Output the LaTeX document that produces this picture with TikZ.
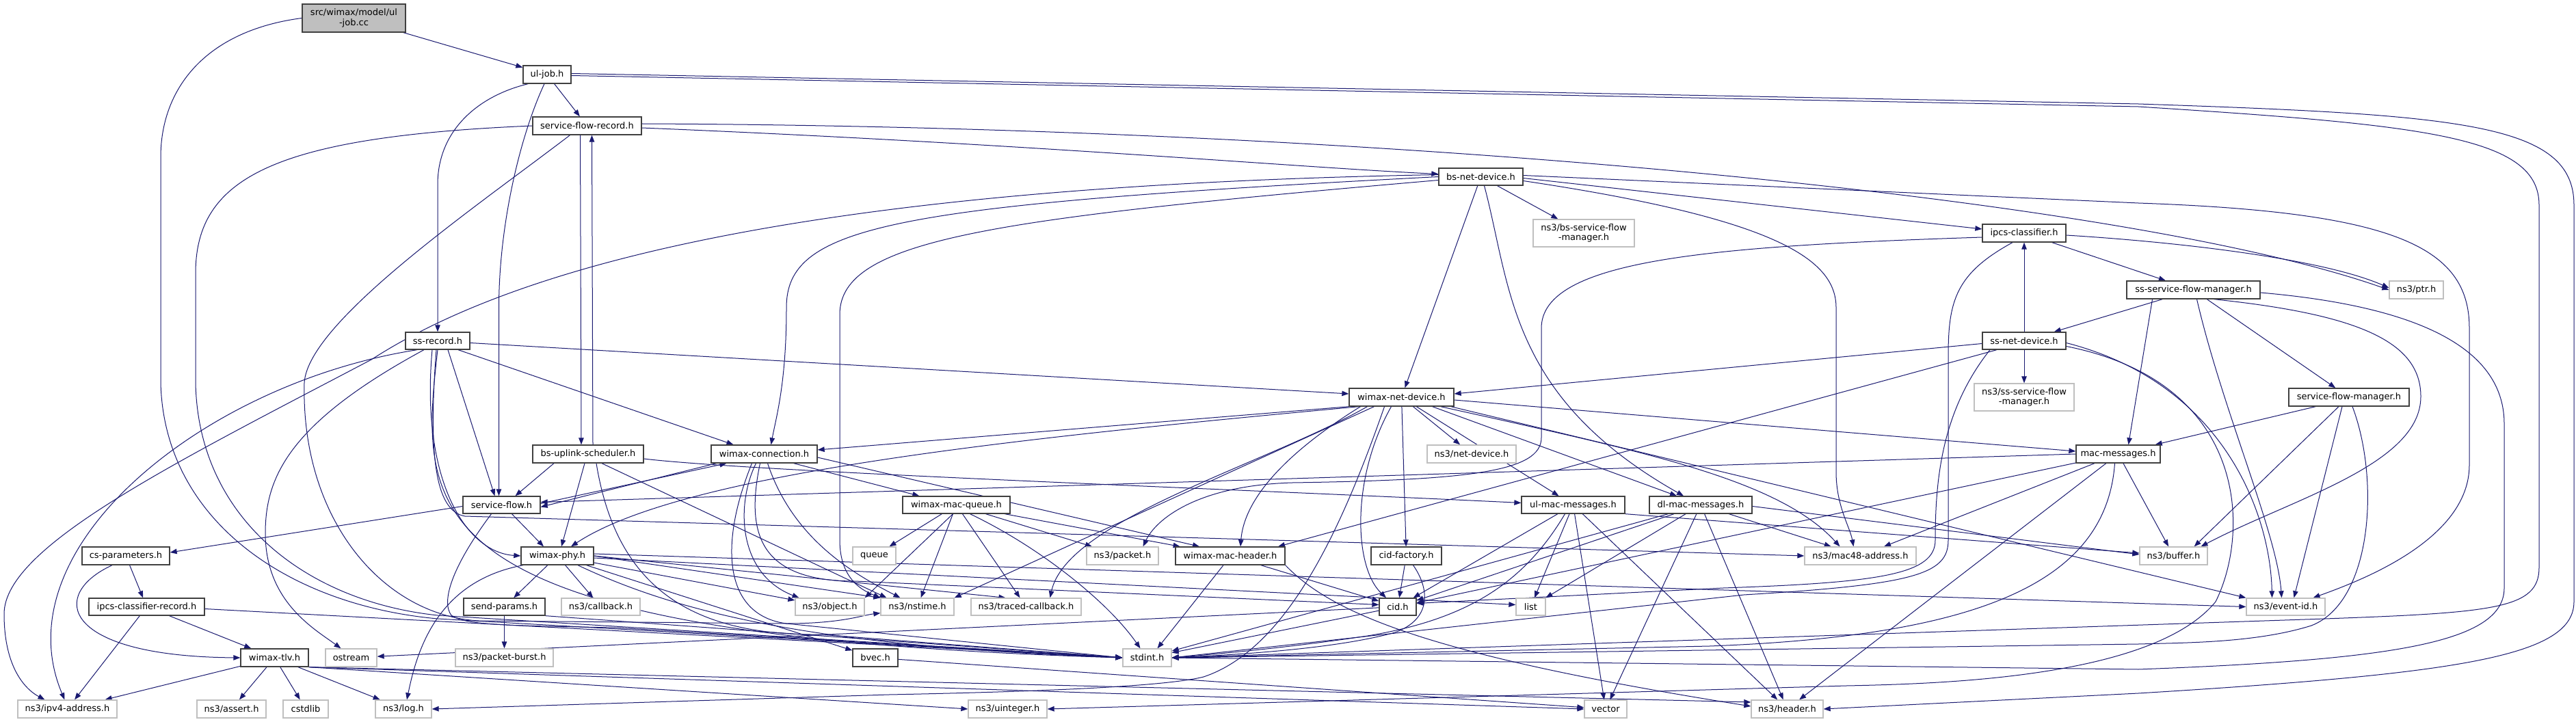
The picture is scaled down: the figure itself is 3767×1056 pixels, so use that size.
\documentclass[tikz,border=0pt]{standalone}
\usepackage{fontspec}
\setmainfont{DejaVu Sans}
\usetikzlibrary{arrows.meta}
\pgfdeclarelayer{back}
\pgfdeclarelayer{bg}
\pgfsetlayers{back,bg,main}
\definecolor{edgec}{HTML}{191970}
\definecolor{docb}{HTML}{404040}
\definecolor{extb}{HTML}{BFBFBF}
\tikzset{
 box/.style={draw=docb,line width=1.3pt,fill=white,inner sep=0pt,align=center,font=\fontsize{13}{14.5}\selectfont},
 ext/.style={box,draw=extb},
 root/.style={box,fill=extb},
 sz/.style 2 args={minimum width=#1pt,minimum height=#2pt},
 edg/.style={draw=edgec,line width=1pt,-{Triangle[length=10pt,width=7.5pt]}}
}
\begin{document}
\begin{tikzpicture}[x=1pt,y=-1pt]
\useasboundingbox (0,0) rectangle (3767,1056);
\begin{pgfonlayer}{back}
\fill[white] (0,0) rectangle (3767,1056);
\end{pgfonlayer}
% nodes
\node[root,sz={151}{41}] (src) at (517.5,26.5) {src/wimax/model/ul\\-job.cc};
\node[box,sz={70}{26}] (uljob) at (800,109) {ul-job.h};
\node[box,sz={159}{26}] (sfr) at (858.5,184) {service-flow-record.h};
\node[box,sz={123}{25}] (bsnd) at (2165.5,258.5) {bs-net-device.h};
\node[ext,sz={148}{40}] (bssfm) at (2316,341) {ns3/bs-service-flow\\-manager.h};
\node[box,sz={122}{26}] (ipcscl) at (2960,341) {ipcs-classifier.h};
\node[ext,sz={79}{26}] (ptr) at (3533.5,424) {ns3/ptr.h};
\node[box,sz={195}{26}] (sssfm) at (3207.5,424) {ss-service-flow-manager.h};
\node[box,sz={94}{25}] (ssrec) at (640,498.5) {ss-record.h};
\node[box,sz={122}{25}] (ssnd) at (2960,498.5) {ss-net-device.h};
\node[box,sz={153}{26}] (wnd) at (2049.5,581) {wimax-net-device.h};
\node[ext,sz={146}{40}] (nssfm) at (2960,581) {ns3/ss-service-flow\\-manager.h};
\node[box,sz={176}{26}] (sfm) at (3435,581) {service-flow-manager.h};
\node[box,sz={162}{26}] (bsus) at (860,664) {bs-uplink-scheduler.h};
\node[box,sz={155}{26}] (wconn) at (1117.5,664) {wimax-connection.h};
\node[ext,sz={130}{26}] (netdev) at (2152,664) {ns3/net-device.h};
\node[box,sz={123}{26}] (macmsg) at (3097.5,664) {mac-messages.h};
\node[box,sz={113}{25}] (sflow) at (733.5,738.5) {service-flow.h};
\node[box,sz={157}{25}] (wmq) at (1398.5,738.5) {wimax-mac-queue.h};
\node[box,sz={151}{25}] (ulmm) at (2300.5,738.5) {ul-mac-messages.h};
\node[box,sz={150}{25}] (dlmm) at (2487,738.5) {dl-mac-messages.h};
\node[box,sz={128}{26}] (csp) at (184,813) {cs-parameters.h};
\node[box,sz={106}{26}] (wphy) at (815,813) {wimax-phy.h};
\node[ext,sz={63}{26}] (queue) at (1278.5,813) {queue};
\node[ext,sz={105}{26}] (packet) at (1641.5,813) {ns3/packet.h};
\node[box,sz={160}{26}] (wmh) at (1799,813) {wimax-mac-header.h};
\node[box,sz={103}{26}] (cidf) at (2056.5,813) {cid-factory.h};
\node[ext,sz={163}{26}] (mac48) at (2720.5,813) {ns3/mac48-address.h};
\node[ext,sz={99}{26}] (buffer) at (3178.5,813) {ns3/buffer.h};
\node[box,sz={169}{25}] (icr) at (214.5,887.5) {ipcs-classifier-record.h};
\node[box,sz={119}{25}] (sendp) at (737.5,887.5) {send-params.h};
\node[ext,sz={115}{25}] (callback) at (878.5,887.5) {ns3/callback.h};
\node[ext,sz={101}{25}] (object) at (1213.5,887.5) {ns3/object.h};
\node[ext,sz={107}{25}] (nstime) at (1341.5,887.5) {ns3/nstime.h};
\node[ext,sz={161}{25}] (traced) at (1500.5,887.5) {ns3/traced-callback.h};
\node[box,sz={54}{25}] (cid) at (2044,887.5) {cid.h};
\node[ext,sz={43}{25}] (list) at (2238.5,887.5) {list};
\node[ext,sz={115}{25}] (eventid) at (3342.5,887.5) {ns3/event-id.h};
\node[box,sz={99}{26}] (wtlv) at (401.5,962) {wimax-tlv.h};
\node[ext,sz={75}{26}] (ostream) at (513.5,962) {ostream};
\node[ext,sz={143}{26}] (pburst) at (737.5,962) {ns3/packet-burst.h};
\node[box,sz={66}{26}] (bvec) at (1280,962) {bvec.h};
\node[ext,sz={71}{26}] (stdint) at (1677.5,962) {stdint.h};
\node[ext,sz={145}{26}] (ipv4) at (98.5,1037) {ns3/ipv4-address.h};
\node[ext,sz={101}{26}] (assert) at (338.5,1037) {ns3/assert.h};
\node[ext,sz={66}{26}] (cstdlib) at (447,1037) {cstdlib};
\node[ext,sz={82}{26}] (log) at (590,1037) {ns3/log.h};
\node[ext,sz={115}{26}] (uinteger) at (1473.5,1037) {ns3/uinteger.h};
\node[ext,sz={62}{26}] (vector) at (2348,1037) {vector};
\node[ext,sz={105}{26}] (header) at (2613.5,1037) {ns3/header.h};
\begin{pgfonlayer}{bg}
% src
\draw[edg] (src) -- (uljob);
\draw[edg] (src.west) .. controls (300,45) and (235,130) .. (235,230) -- (235,560) .. controls (240,760) and (420,885) .. (640,905) -- (stdint.west);
% ul-job.h
\draw[edg] (uljob) -- (sfr);
\draw[edg] ([xshift=8pt]uljob.south west) .. controls (700,140) and (640,190) .. (640,270) -- (ssrec.north);
\draw[edg] ([xshift=-4pt]uljob.south) .. controls (760,200) and (729.5,330) .. (729.5,450) -- ([xshift=-4pt]sflow.north);
\draw[edg] ([yshift=1.5pt]uljob.east) -- (3127,152) .. controls (3600,168) and (3764,180) .. (3764,300) -- (3764,880) .. controls (3764,960) and (3600,985) .. (3127,1014) -- (header.east);
\draw[edg] ([yshift=-1.5pt]uljob.east) -- (3127,156) .. controls (3550,183) and (3713,200) .. (3713,300) -- (3713,830) .. controls (3713,890) and (3650,896) .. (3400,905) -- (stdint.east);
% service-flow-record.h
\draw[edg] ([xshift=-10pt]sfr.south) -- ([xshift=-10pt]bsus.north);
\draw[edg] ([xshift=7pt]bsus.north) -- ([xshift=7pt]sfr.south);
\draw[edg] ([yshift=-3pt]sfr.east) .. controls (1500,210) and (1900,245) .. ([yshift=4pt]bsnd.west);
\draw[edg] ([yshift=3pt]sfr.east) .. controls (2000,185) and (3100,285) .. (ptr.west);
\draw[edg] (sfr.west) .. controls (400,200) and (286,260) .. (286,400) -- (286,560) .. controls (290,760) and (450,880) .. (640,900) -- (stdint.west);
\draw[edg] ([xshift=-25pt]sfr.south) .. controls (700,300) and (450,470) .. (445,560) .. controls (440,760) and (560,900) .. (700,908) -- (1150,912) .. controls (1230,912) and (1260,900) .. ([yshift=4pt]nstime.south west);
% bs-net-device.h
\draw[edg] (bsnd) -- (wnd);
\draw[edg] (bsnd) -- (bssfm);
\draw[edg] ([yshift=-2pt]bsnd.east) -- ([yshift=6pt]ipcscl.west);
\draw[edg] ([yshift=2pt]bsnd.east) -- (3127,297) .. controls (3500,310) and (3611,360) .. (3611,480) -- (3611,680) .. controls (3611,790) and (3450,850) .. ([xshift=40pt]eventid.north);
\draw[edg] ([yshift=-6pt]bsnd.east) .. controls (2600,320) and (2685,380) .. (2685,450) -- (2685,690) .. controls (2685,740) and (2705,770) .. ([xshift=-10pt]mac48.north);
\draw[edg] ([xshift=5pt]bsnd.south) .. controls (2210,420) and (2205,580) .. ([xshift=-25pt]dlmm.north);
\draw[edg] (bsnd.west) .. controls (1300,300) and (1150,330) .. (1150,450) .. controls (1150,560) and (1135,610) .. ([xshift=10pt]wconn.north);
\draw[edg] ([yshift=-5pt]bsnd.west) .. controls (1450,320) and (1228,350) .. (1228,460) -- (1228,790) .. controls (1228,850) and (1265,865) .. (nstime.north west);
\draw[edg] ([yshift=3pt]bsnd.west) .. controls (1300,270) and (800,360) .. (543,526) .. controls (250,680) and (6,800) .. (6,898) .. controls (6,980) and (40,1010) .. ([xshift=-33pt]ipv4.north);
% ss-record.h
\draw[edg] ([xshift=-30pt]ssrec.south) .. controls (300,560) and (0,800) .. ([xshift=-4pt]ipv4.north);
\draw[edg] ([xshift=-20pt]ssrec.south) .. controls (420,620) and (388,700) .. (388,780) .. controls (388,880) and (460,920) .. ([xshift=-15pt]ostream.north);
\draw[edg] (ssrec.south) .. controls (612,760) and (600,930) .. (stdint.west);
\draw[edg] ([yshift=-3pt]ssrec.east) -- ([yshift=5pt]wnd.west);
\draw[edg] ([xshift=30pt]ssrec.south) -- ([xshift=-45pt]wconn.north);
\draw[edg] ([xshift=15pt]ssrec.south) -- ([xshift=-10pt]sflow.north);
\draw[edg] ([xshift=-8pt]ssrec.south) .. controls (615,700) and (680,808) .. (wphy.west);
\draw[edg] ([xshift=-2pt]ssrec.south) .. controls (625,680) and (640,748) .. (680,755) -- (mac48.west);
% service-flow.h
\draw[edg] ([yshift=-2pt]sflow.west) -- ([yshift=5pt]csp.east);
\draw[edg] ([xshift=15pt]sflow.south) -- ([xshift=-20pt]wphy.north);
\draw[edg] ([yshift=2pt]sflow.east) -- ([xshift=-55pt]wconn.south);
\draw[edg] ([xshift=-70pt]wconn.south) -- ([yshift=-3pt]sflow.east);
\draw[edg] ([xshift=-15pt]sflow.south) .. controls (660,830) and (645,880) .. (660,900) .. controls (680,915) and (750,915) .. (900,918) -- (stdint.west);
% bs-uplink-scheduler.h
\draw[edg] ([xshift=-50pt]bsus.south) -- ([xshift=20pt]sflow.north);
\draw[edg] ([xshift=-5pt]bsus.south) -- ([xshift=6pt]wphy.north);
\draw[edg] ([yshift=-7pt]bsus.east) .. controls (1100,690) and (1800,715) .. ([yshift=3pt]ulmm.west);
\draw[edg] ([xshift=20pt]bsus.south) -- ([xshift=-45pt]nstime.north);
\draw[edg] ([xshift=12pt]bsus.south) .. controls (900,850) and (1000,930) .. (1200,928) -- (stdint.west);
% wimax-connection.h
\draw[edg] ([xshift=-35pt]wconn.south east) -- ([xshift=25pt]wmq.north west);
\draw[edg] ([yshift=-5pt]wconn.east) -- ([xshift=-45pt]wmh.north);
\draw[edg] ([xshift=-12pt]wconn.south) .. controls (1075,740) and (1080,840) .. ([xshift=-45pt]object.north);
\draw[edg] ([xshift=5pt]wconn.south) .. controls (1160,790) and (1250,840) .. ([xshift=-25pt]nstime.north);
\draw[edg] ([xshift=-18pt]wconn.south) .. controls (1050,800) and (1060,900) .. (1150,912) -- (stdint.west);
\draw[edg] ([xshift=-6pt]wconn.south) .. controls (1090,780) and (1110,850) .. (1250,850) -- ([yshift=3pt]cid.west);
% wimax-mac-queue.h
\draw[edg] (wmq) -- (queue);
\draw[edg] (wmq) -- (packet);
\draw[edg] (wmq) -- (wmh);
\draw[edg] (wmq) -- (nstime);
\draw[edg] ([xshift=-5pt]wmq.south) -- (object.north east);
\draw[edg] (wmq) -- (traced);
\draw[edg] ([xshift=20pt]wmq.south) .. controls (1520,800) and (1620,880) .. ([xshift=-10pt]stdint.north);
% wimax-mac-header.h
\draw[edg] (wmh) -- (cid);
\draw[edg] ([xshift=-10pt]wmh.south) -- ([xshift=15pt]stdint.north);
\draw[edg] (wmh.south east) .. controls (1950,900) and (2100,960) .. ([yshift=4pt]header.west);
% wimax-phy.h
\draw[edg] (wphy) -- (sendp);
\draw[edg] (wphy) -- (callback);
\draw[edg] (wphy) -- (bvec);
\draw[edg] (wphy) -- (object);
\draw[edg] (wphy.east) -- (nstime.north west);
\draw[edg] (wphy.east) -- ([xshift=-30pt]traced.north);
\draw[edg] ([xshift=30pt]wphy.south) .. controls (1000,900) and (1200,945) .. (stdint.west);
\draw[edg] ([yshift=-3pt]wphy.east) -- ([yshift=3pt]list.west);
\draw[edg] ([yshift=3pt]wphy.east) -- (eventid.west);
\draw[edg] ([xshift=-50pt]wphy.south) .. controls (640,850) and (610,950) .. ([xshift=5pt]log.north);
% send-params.h, bvec.h
\draw[edg] (sendp) -- (pburst);
\draw[edg] (sendp.south east) -- (stdint.west);
\draw[edg] (bvec) -- (vector);
% cs-parameters.h, ipcs-classifier-record.h
\draw[edg] (csp) -- (icr);
\draw[edg] ([xshift=-20pt]csp.south) .. controls (70,870) and (90,960) .. (wtlv.west);
\draw[edg] (icr) -- (wtlv);
\draw[edg] (icr) -- (ipv4);
\draw[edg] ([yshift=-3pt]icr.east) -- (stdint.west);
% wimax-tlv.h
\draw[edg] (wtlv) -- (ipv4);
\draw[edg] (wtlv) -- (assert);
\draw[edg] (wtlv) -- (cstdlib);
\draw[edg] (wtlv) -- (log);
\draw[edg] (wtlv.south east) -- (uinteger.west);
\draw[edg] (wtlv.south east) -- (vector.west);
\draw[edg] (wtlv.south east) -- ([yshift=10pt]header.west);
% cid-factory.h, cid.h
\draw[edg] (cidf) -- (cid);
\draw[edg] ([xshift=10pt]cidf.south) .. controls (2090,860) and (2095,905) .. (2040,925) .. controls (1950,950) and (1800,958) .. (stdint.east);
\draw[edg] (cid) -- (stdint);
\draw[edg] (cid) -- (ostream);
% ul-mac-messages.h
\draw[edg] (ulmm) -- (cid);
\draw[edg] (ulmm) -- (list);
\draw[edg] (ulmm) -- (vector);
\draw[edg] (ulmm) -- (header);
\draw[edg] ([xshift=-12pt]ulmm.south) .. controls (2230,850) and (2150,905) .. (2000,930) .. controls (1900,945) and (1800,955) .. (stdint.east);
\draw[edg] (ulmm.south east) -- ([yshift=4pt]buffer.west);
% dl-mac-messages.h
\draw[edg] (dlmm) -- (cid);
\draw[edg] (dlmm) -- (list);
\draw[edg] (dlmm) -- (vector);
\draw[edg] (dlmm) -- (header);
\draw[edg] (dlmm) -- (stdint);
\draw[edg] ([yshift=-2pt]dlmm.east) -- ([yshift=2pt]buffer.west);
\draw[edg] (dlmm) -- (mac48);
% mac-messages.h
\draw[edg] (macmsg.west) -- ([yshift=4pt]sflow.east);
\draw[edg] (macmsg) -- (cid);
\draw[edg] (macmsg) -- (mac48);
\draw[edg] (macmsg) -- (buffer);
\draw[edg] (macmsg) -- (header);
\draw[edg] ([xshift=-5pt]macmsg.south) .. controls (3080,850) and (2900,930) .. (2500,945) -- (stdint.east);
% ipcs-classifier.h
\draw[edg] (ipcscl) -- (sssfm);
\draw[edg] ([yshift=-3pt]ipcscl.east) .. controls (3200,355) and (3400,380) .. ([yshift=3pt]ptr.west);
\draw[edg] ([yshift=-6pt]ipcscl.west) .. controls (2500,360) and (2254,380) .. (2254,480) -- (2254,640) .. controls (2254,690) and (2150,702) .. (1890,706) .. controls (1750,710) and (1690,760) .. ([xshift=30pt]packet.north);
\draw[edg] ([xshift=-17pt]ipcscl.south) .. controls (2860,400) and (2849,440) .. (2849,520) -- (2849,790) .. controls (2849,840) and (2800,855) .. (2550,870) -- (stdint.east);
% ss-net-device.h
\draw[edg] (ssnd) -- (ipcscl);
\draw[edg] (ssnd) -- (nssfm);
\draw[edg] ([yshift=-4pt]ssnd.west) -- ([yshift=5pt]wnd.east);
\draw[edg] ([xshift=-40pt]ssnd.south) -- ([xshift=70pt]wmh.north);
\draw[edg] ([xshift=-50pt]ssnd.south) .. controls (2840,600) and (2830,700) .. (2830,790) .. controls (2830,840) and (2750,852) .. (2520,860) -- ([yshift=5pt]cid.east);
\draw[edg] ([yshift=-3pt]ssnd.east) .. controls (3250,560) and (3320,750) .. ([xshift=-20pt]eventid.north);
\draw[edg] ([yshift=-8pt]ssnd.east) .. controls (3290,560) and (3290,780) .. (3240,880) .. controls (3150,990) and (2850,1000) .. (2700,1003) -- (uinteger.east);
% ss-service-flow-manager.h
\draw[edg] (sssfm) -- (ssnd);
\draw[edg] ([xshift=-60pt]sssfm.south) -- ([xshift=15pt]macmsg.north);
\draw[edg] (sssfm) -- (sfm);
\draw[edg] ([xshift=5pt]sssfm.south) .. controls (3250,600) and (3330,780) .. ([xshift=-6pt]eventid.north);
\draw[edg] ([xshift=30pt]sssfm.south) .. controls (3450,460) and (3540,500) .. (3540,580) .. controls (3540,680) and (3350,730) .. ([xshift=40pt]buffer.north);
\draw[edg] ([yshift=-4pt]sssfm.east) .. controls (3560,450) and (3662,520) .. (3662,620) -- (3662,860) .. controls (3662,940) and (3500,965) .. (3127,979) -- (stdint.east);
% service-flow-manager.h
\draw[edg] ([xshift=40pt]sfm.south west) -- ([xshift=-8pt]macmsg.north east);
\draw[edg] ([xshift=-15pt]sfm.south) -- ([xshift=-20pt]buffer.north east);
\draw[edg] ([xshift=-10pt]sfm.south) -- ([xshift=12pt]eventid.north);
\draw[edg] ([xshift=5pt]sfm.south) .. controls (3480,700) and (3470,880) .. (3380,915) .. controls (3300,940) and (3200,940) .. (3127,942) -- (stdint.east);
% wimax-net-device.h
\draw[edg] (wnd) -- (netdev);
\draw[edg] (wnd) -- (ulmm);
\draw[edg] ([xshift=45pt]wnd.south) -- ([xshift=-35pt]dlmm.north);
\draw[edg] (wnd) -- (cidf);
\draw[edg] ([xshift=-15pt]wnd.south) .. controls (1975,700) and (1980,830) .. ([xshift=-17pt]cid.north);
\draw[edg] (wnd.south west) -- ([yshift=6pt]wconn.east);
\draw[edg] ([xshift=15pt]wnd.south west) .. controls (1500,640) and (1000,690) .. ([xshift=20pt]wphy.north);
\draw[edg] ([xshift=-40pt]wnd.south) -- (nstime.north east);
\draw[edg] ([xshift=-50pt]wnd.south) .. controls (1850,680) and (1560,760) .. ([xshift=35pt]traced.north);
\draw[edg] ([xshift=-25pt]wnd.south) .. controls (1960,780) and (1880,950) .. (1760,990) .. controls (1700,1005) and (1500,1012) .. (1300,1016) -- (log.east);
\draw[edg] ([xshift=-60pt]wnd.south) .. controls (1900,650) and (1820,720) .. ([xshift=15pt]wmh.north);
\draw[edg] ([xshift=-20pt]wnd.south east) .. controls (2400,660) and (2600,700) .. ([xshift=-30pt]mac48.north);
\draw[edg] ([yshift=-4pt]wnd.east) -- ([yshift=4pt]macmsg.west);
\draw[edg] ([xshift=-5pt]wnd.south east) -- (eventid.north west);
\end{pgfonlayer}
\end{tikzpicture}
\end{document}
